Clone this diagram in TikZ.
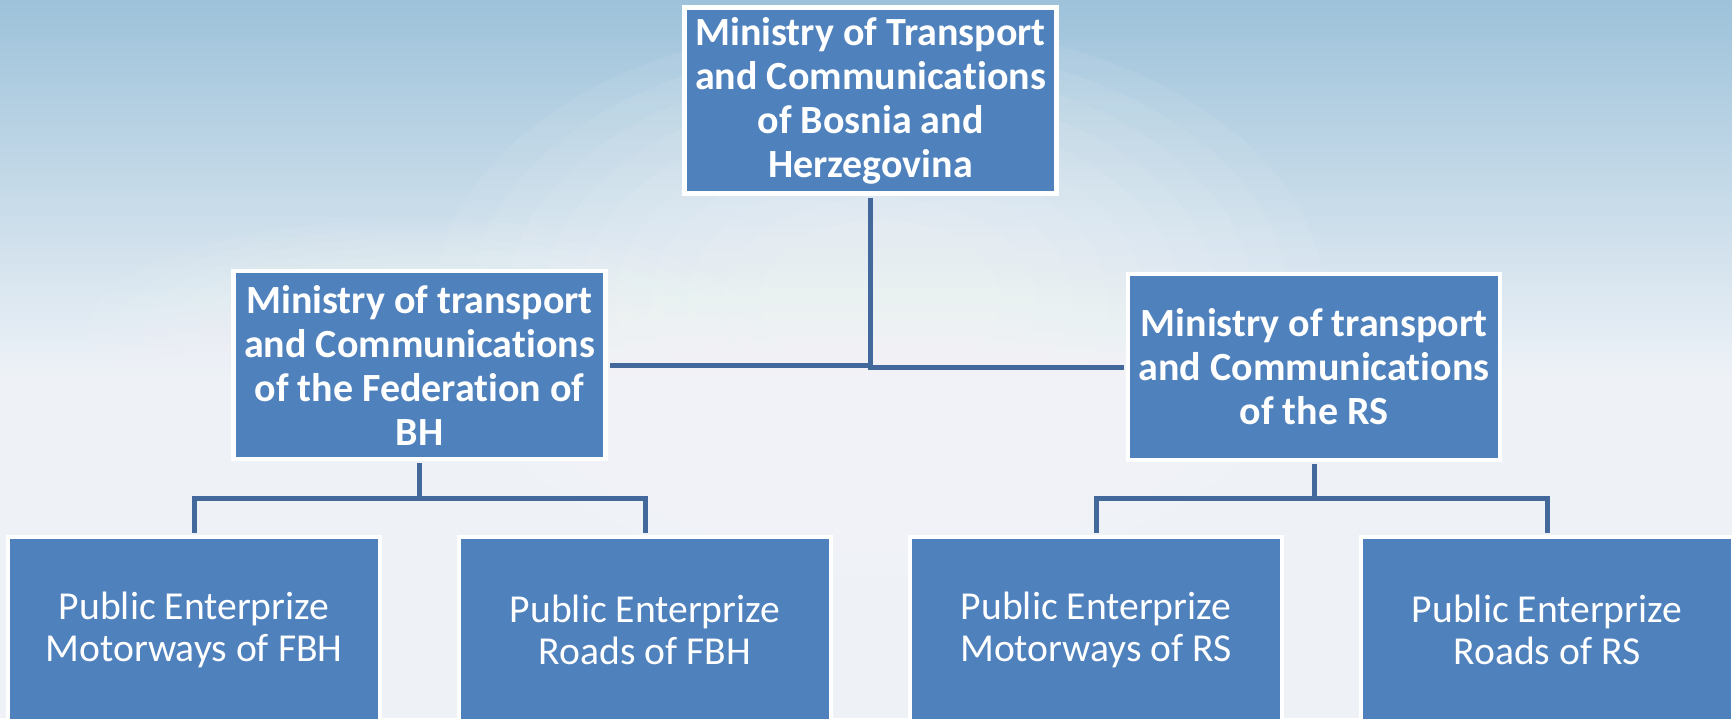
\documentclass[tikz,border=0pt]{standalone}
\usepackage{fontspec}
\setmainfont{Carlito}[Ligatures=NoCommon]

\definecolor{boxblue}{HTML}{4F81BD}
\definecolor{linkblue}{HTML}{43699C}
\definecolor{skytop}{HTML}{9DC2DA}
\definecolor{skylow}{HTML}{EEF2F7}

\tikzset{
  orgbox/.style={rectangle, fill=boxblue, draw=white, line width=2.25pt, text=white,
    align=center, minimum width=186pt, minimum height=93pt, inner sep=2pt},
  ministry/.style={orgbox, font=\fontsize{20}{22}\selectfont\bfseries},
  enterprize/.style={orgbox, font=\fontsize{19.8}{21}\selectfont},
  link/.style={draw=linkblue, line width=2.5pt, shorten <=1.1pt, shorten >=1.1pt}
}

\begin{document}
\begin{tikzpicture}[x=0.5pt,y=-0.5pt]
        \useasboundingbox (0,0) rectangle (1732,718);
        \clip (0,0) rectangle (1732,718);

        % sky
        \fill[skylow] (0,0) rectangle (1732,718);
        \shade[top color=skytop, bottom color=skylow] (0,0) rectangle (1732,380);
        \foreach \r in {1,...,10} {
          \fill[white, opacity=.07] (880,300) ellipse [x radius=480-36*\r, y radius=300-22*\r];
          \fill[white, opacity=.05] (420,330) ellipse [x radius=360-28*\r, y radius=120-9*\r];
        }

        \node (mtc) at (870.5,100.5) [ministry] {Ministry of Transport\\and Communications\\of Bosnia and\\Herzegovina};
        \node (fbh) at (419.5,365) [ministry, minimum height=94pt] {Ministry of transport\\and Communications\\of the Federation of\\BH};
        \node (rs) at (1314,367) [ministry] {Ministry of transport\\and Communications\\of the RS};

        \node (pe1) at (194,630) [enterprize] {Public Enterprize\\Motorways of FBH};
        \node (pe2) at (645,630) [enterprize] {Public Enterprize\\Roads of FBH};
        \node (pe3) at (1096,630) [enterprize] {Public Enterprize\\Motorways of RS};
        \node (pe4) at (1547,630) [enterprize] {Public Enterprize\\Roads of RS};

        \draw[link] (mtc) |- (fbh);
        \draw[link] (mtc) |- (rs);

        \coordinate (fbhj) at (419.5,498);
        \coordinate (rsj) at (1314,498);
        \draw[link] (fbh) -- (fbhj);
        \draw[link] (pe1) |- (fbhj) -| (pe2);
        \draw[link] (rs) -- (rsj);
        \draw[link] (pe3) |- (rsj) -| (pe4);
\end{tikzpicture}
\end{document}
